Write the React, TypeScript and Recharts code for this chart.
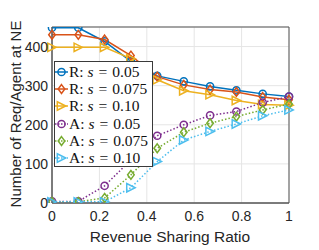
import React from 'react';
import { LineChart, Line, XAxis, YAxis, CartesianGrid, ReferenceArea } from 'recharts';

// revenue sharing ratio (10 points, 0 .. 1)
const ratios = [0, 0.111, 0.222, 0.333, 0.444, 0.556, 0.667, 0.778, 0.889, 1];

const rS005 = [448, 448, 413, 362, 325, 311, 298, 288, 279, 272];
const rS0075 = [430, 430, 418, 377, 323, 302, 290, 284, 271, 264];
const rS010 = [398, 398, 398, 369, 315, 287, 277, 262, 252, 250];
const aS005 = [4, 4, 44, 110, 172, 200, 224, 234, 257, 272];
const aS0075 = [3, 3, 13, 72, 140, 181, 204, 221, 238, 253];
const aS010 = [3, 3, 3, 39, 106, 161, 183, 202, 223, 238];

const xTicks = [0, 0.2, 0.4, 0.6, 0.8, 1];
const yTicks = [0, 100, 200, 300, 400];

const data = ratios.map((r, i) => ({
  r,
  rS005: rS005[i],
  rS0075: rS0075[i],
  rS010: rS010[i],
  aS005: aS005[i],
  aS0075: aS0075[i],
  aS010: aS010[i],
}));

type Shape = 'circle' | 'diamond' | 'triangle';

const series: { key: string; name: string; s: string; color: string; shape: Shape; dotted: boolean }[] = [
  { key: 'rS005', name: 'R', s: '0.05', color: '#0072BD', shape: 'circle', dotted: false },
  { key: 'rS0075', name: 'R', s: '0.075', color: '#D95319', shape: 'diamond', dotted: false },
  { key: 'rS010', name: 'R', s: '0.10', color: '#EDB120', shape: 'triangle', dotted: false },
  { key: 'aS005', name: 'A', s: '0.05', color: '#7E2F8E', shape: 'circle', dotted: true },
  { key: 'aS0075', name: 'A', s: '0.075', color: '#77AC30', shape: 'diamond', dotted: true },
  { key: 'aS010', name: 'A', s: '0.10', color: '#4DBEEE', shape: 'triangle', dotted: true },
];

function marker(shape: Shape, cx: number, cy: number, color: string, key?: any) {
  if (shape === 'circle') {
    return <circle key={key} cx={cx} cy={cy} r={3.6} fill="none" stroke={color} strokeWidth={1.5} />;
  }
  if (shape === 'diamond') {
    const d = 4.4;
    return (
      <polygon key={key} points={`${cx},${cy - d} ${cx + d * 0.75},${cy} ${cx},${cy + d} ${cx - d * 0.75},${cy}`}
        fill="none" stroke={color} strokeWidth={1.5} />
    );
  }
  const t = 4.2;
  return (
    <polygon key={key} points={`${cx + t},${cy} ${cx - t},${cy - t} ${cx - t},${cy + t}`}
      fill="none" stroke={color} strokeWidth={1.5} />
  );
}

const YLabel = () => (
  <text x={21} y={114} transform="rotate(-90 21 114)" textAnchor="middle"
    fontSize={15} fill="#262626" fontFamily="Liberation Sans, Arial, sans-serif">
    Number of Req/Agent at NE
  </text>
);

const XLabel = () => (
  <text x={170} y={242} textAnchor="middle" fontSize={15.5} fill="#262626"
    fontFamily="Liberation Sans, Arial, sans-serif">
    Revenue Sharing Ratio
  </text>
);

function LegendBox() {
  return (
    <div style={{
      position: 'absolute', left: 54, top: 61, width: 99, height: 106,
      border: '1px solid #3a3a3a', background: '#fff', boxSizing: 'border-box',
      paddingTop: 1, fontFamily: 'Liberation Serif, Times New Roman, serif', fontSize: 15.5, color: '#111',
    }}>
      {series.map((sr) => (
        <div key={sr.key} style={{ height: 17.3, display: 'flex', alignItems: 'center', whiteSpace: 'nowrap' }}>
          <svg width={13} height={12} style={{ marginLeft: 0, marginRight: 1 }}>
            <line x1={0} y1={6} x2={13} y2={6} stroke={sr.color} strokeWidth={1.5}
              strokeDasharray={sr.dotted ? '1.5 1.5' : undefined} />
            {marker(sr.shape, 6.5, 6, sr.color)}
          </svg>
          <span>{sr.name}:&nbsp;<i>s</i><span style={{ margin: '0 5px' }}>=</span>{sr.s}</span>
        </div>
      ))}
    </div>
  );
}

export default function App() {
  return (
    <div style={{ position: 'absolute', left: 0, top: 0, width: 319, height: 250, background: '#fff' }}>
      <LineChart width={319} height={250} data={data} margin={{ top: 27, right: 30, bottom: 0, left: 0 }}>
        <CartesianGrid stroke="#e5e5e5" strokeWidth={1} />
        <XAxis dataKey="r" type="number" domain={[0, 1]} ticks={xTicks} height={47}
          tickLine={false} tickSize={0} tickMargin={8} axisLine={{ stroke: '#555' }}
          tick={{ fontSize: 14, fill: '#262626', fontFamily: 'Liberation Sans, Arial, sans-serif' }}
          tickFormatter={(v: number) => String(v)} label={<XLabel />} />
        <YAxis type="number" domain={[0, 450]} ticks={yTicks} width={52} allowDataOverflow
          tickLine={false} tickSize={0} tickMargin={4} axisLine={{ stroke: '#555' }}
          tick={{ fontSize: 14, fill: '#262626', fontFamily: 'Liberation Sans, Arial, sans-serif' }}
          label={<YLabel />} />
        <ReferenceArea x1={0} x2={1} y1={0} y2={450} fill="none" stroke="#555" strokeWidth={1} ifOverflow="visible" />
        {series.map((sr) => (
          <Line key={sr.key} dataKey={sr.key} type="linear" stroke={sr.color} strokeWidth={1.5}
            strokeDasharray={sr.dotted ? '1.5 2' : undefined} isAnimationActive={false}
            dot={(p: any) => marker(sr.shape, p.cx, p.cy, sr.color, `${sr.key}-${p.index}`)}
            activeDot={false} />
        ))}
      </LineChart>
      <LegendBox />
    </div>
  );
}
